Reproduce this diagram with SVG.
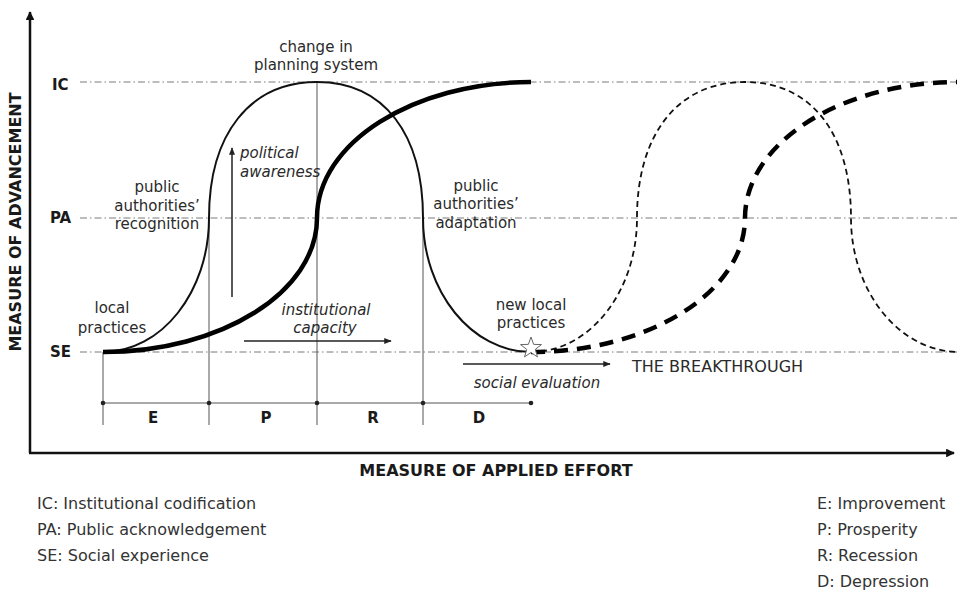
<svg xmlns="http://www.w3.org/2000/svg" width="957" height="594" viewBox="0 0 957 594">
<style>
  .lbl { font-family: "DejaVu Sans", Verdana, sans-serif; font-size: 15px; fill: #2a2a2a; text-anchor: middle; }
  .it { font-style: italic; }
  .start { text-anchor: start; }
  .bold { font-family: "DejaVu Sans", Verdana, sans-serif; font-weight: bold; fill: #1a1a1a; }
  .leg { font-family: "DejaVu Sans", Verdana, sans-serif; font-size: 16px; fill: #333; }
  .ref { stroke: #7a7a7a; stroke-width: 1; stroke-dasharray: 7 3 1.5 3; fill: none; }
  .vline { stroke: #555; stroke-width: 1; fill: none; }
  .arrow { stroke: #222; stroke-width: 1.5; fill: none; marker-end: url(#ah); }
  .axis { stroke: #111; stroke-width: 2.5; fill: none; }
</style>
<defs>
  <marker id="ah" viewBox="0 0 10 10" refX="9" refY="5" markerWidth="5" markerHeight="5" orient="auto" markerUnits="strokeWidth">
    <path d="M0,1 L10,5 L0,9 z" fill="#222"/>
  </marker>
  <marker id="axh" viewBox="0 0 10 10" refX="9" refY="5" markerWidth="3.5" markerHeight="3.5" orient="auto" markerUnits="strokeWidth">
    <path d="M0,0 L10,5 L0,10 z" fill="#111"/>
  </marker>
</defs>
<rect width="957" height="594" fill="#fff"/>

<g id="axes">
  <line class="axis" x1="30" y1="453" x2="30" y2="12" marker-end="url(#axh)"/>
  <line class="axis" x1="29" y1="453" x2="954" y2="453" marker-end="url(#axh)"/>
  <text class="bold" font-size="16" transform="translate(21,222) rotate(-90)" text-anchor="middle">MEASURE OF ADVANCEMENT</text>
  <text class="bold" font-size="16" x="496" y="476" text-anchor="middle">MEASURE OF APPLIED EFFORT</text>
</g>

<g id="levels">
  <line class="ref" x1="80" y1="82" x2="957" y2="82"/>
  <line class="ref" x1="80" y1="218" x2="957" y2="218"/>
  <line class="ref" x1="80" y1="352" x2="957" y2="352"/>
  <text class="bold" font-size="15" x="52" y="90">IC</text>
  <text class="bold" font-size="15" x="50" y="223">PA</text>
  <text class="bold" font-size="15" x="50" y="357">SE</text>
</g>

<g id="phases">
  <line class="vline" x1="103" y1="352" x2="103" y2="425"/>
  <line class="vline" x1="209" y1="218" x2="209" y2="425"/>
  <line class="vline" x1="317" y1="82" x2="317" y2="425"/>
  <line class="vline" x1="423" y1="218" x2="423" y2="425"/>
  <line class="vline" x1="103" y1="403" x2="531" y2="403"/>
  <g fill="#222">
    <circle cx="103" cy="403" r="2.3"/>
    <circle cx="209" cy="403" r="2.3"/>
    <circle cx="317" cy="403" r="2.3"/>
    <circle cx="423" cy="403" r="2.3"/>
    <circle cx="531" cy="403" r="2.3"/>
  </g>
  <text class="bold" font-size="15" x="153" y="423" text-anchor="middle">E</text>
  <text class="bold" font-size="15" x="266" y="423" text-anchor="middle">P</text>
  <text class="bold" font-size="15" x="373" y="423" text-anchor="middle">R</text>
  <text class="bold" font-size="15" x="479" y="423" text-anchor="middle">D</text>
</g>

<g id="curves">
  <path id="bell" d="M103,352 C161.5,352 209,292 209,218 C209,134 250,82 317,82 C384,82 423,134 423,218 C423,292 472,352 531,352" fill="none" stroke="#111" stroke-width="2"/>
  <path id="scurve" d="M103,352 C221,352 317,292 317,218 C317,143 413,82 531,82" fill="none" stroke="#000" stroke-width="4.5"/>
  <path id="bell2" d="M531,352 C589.5,352 637,292 637,218 C637,134 678,82 745,82 C812,82 851,134 851,218 C851,292 900,352 959,352" fill="none" stroke="#111" stroke-width="1.8" stroke-dasharray="6 4"/>
  <path id="scurve2" d="M531,352 C649,352 745,292 745,218 C745,143 841,82 959,82" fill="none" stroke="#000" stroke-width="4.5" stroke-dasharray="14 9"/>
  <polygon id="star" points="531,337 533.65,344.36 541.46,344.6 535.28,349.39 537.47,356.9 531,352.5 524.53,356.9 526.72,349.39 520.54,344.6 528.35,344.36" fill="#fff" stroke="#666" stroke-width="1"/>
</g>

<g id="connectors">
  <line class="arrow" x1="232" y1="297" x2="232" y2="148"/>
  <line class="arrow" x1="244" y1="341" x2="391" y2="341"/>
  <line class="arrow" x1="463" y1="364" x2="610" y2="364"/>
</g>

<g id="labels">
  <text class="lbl" x="316" y="52">change in</text>
  <text class="lbl" x="316" y="70">planning system</text>
  <text class="lbl it start" x="240" y="158">political</text>
  <text class="lbl it start" x="240" y="177">awareness</text>
  <text class="lbl" x="157" y="192">public</text>
  <text class="lbl" x="157" y="211">authorities’</text>
  <text class="lbl" x="157" y="229">recognition</text>
  <text class="lbl" x="112" y="313">local</text>
  <text class="lbl" x="112" y="333">practices</text>
  <text class="lbl it" x="326" y="315">institutional</text>
  <text class="lbl it" x="325" y="333">capacity</text>
  <text class="lbl" x="476" y="191">public</text>
  <text class="lbl" x="476" y="209">authorities’</text>
  <text class="lbl" x="476" y="228">adaptation</text>
  <text class="lbl" x="531" y="310">new local</text>
  <text class="lbl" x="531" y="328">practices</text>
  <text class="lbl it" x="537" y="388">social evaluation</text>
  <text class="lbl start" x="632" y="372" style="font-size:16px">THE BREAKTHROUGH</text>
</g>

<g id="legend">
  <text class="leg" x="37" y="509">IC: Institutional codification</text>
  <text class="leg" x="37" y="535">PA: Public acknowledgement</text>
  <text class="leg" x="37" y="561">SE: Social experience</text>
  <text class="leg" x="817" y="509">E: Improvement</text>
  <text class="leg" x="817" y="535">P: Prosperity</text>
  <text class="leg" x="817" y="561">R: Recession</text>
  <text class="leg" x="817" y="587">D: Depression</text>
</g>
</svg>
